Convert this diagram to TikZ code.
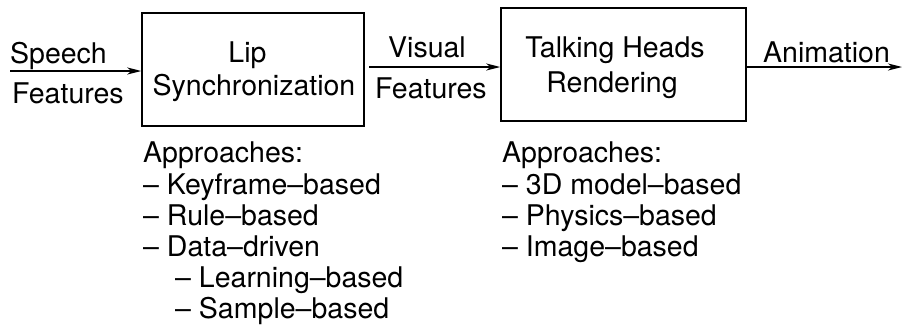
\documentclass[tikz,border=0pt]{standalone}
\usepackage{fontspec}
\setmainfont{TeX Gyre Heros}
\usetikzlibrary{arrows.meta}
\begin{document}
\begin{tikzpicture}[x=1pt,y=-1pt,
  lbl/.style={inner sep=0pt,anchor=base west,font=\fontsize{28.5}{31}\selectfont},
  ctr/.style={inner sep=0pt,anchor=base,font=\fontsize{28.5}{31}\selectfont},
  blockbox/.style={draw,line width=1.5pt,inner sep=0pt},
  arr/.style={line width=1.4pt,-{Stealth[length=14pt,width=7pt,inset=4pt]}}]
\useasboundingbox (0,0) rectangle (903,327);

% processing blocks
\node[blockbox,minimum width=222pt,minimum height=113pt] (sync) at (253,69.5) {};
\node[blockbox,minimum width=245pt,minimum height=113pt] (render) at (623.5,64.5) {};

% block titles
\node[ctr] (lip)  at (247.5,62) {Lip};
\node[ctr] (syn)  at (254,95) {Synchronization};
\node[ctr] (talk) at (615,57) {Talking Heads};
\node[ctr] (rend) at (612,92) {Rendering};

% signal labels
\node[lbl] (speech) at (10,63) {Speech};
\node[lbl] (feat1)  at (12,103) {Features};
\node[lbl] (vis)    at (388,57) {Visual};
\node[lbl] (feat2)  at (375,98) {Features};
\node[lbl] (anim)   at (763,62) {Animation};

% connectors
\coordinate (in1) at (10,71);
\coordinate (in2) at (369,67);
\coordinate (out) at (902,67);
\draw[arr] (in1) -- (in1 -| sync.west);
\draw[arr] (in2) -- (in2 -| render.west);
\draw[arr] (out -| render.east) -- (out);

% lists of approaches
\node[lbl] (la1) at (143,162) {Approaches:};
\node[lbl] (la2) at (143,194) {– Keyframe–based};
\node[lbl] (la3) at (143,225) {– Rule–based};
\node[lbl] (la4) at (143,256) {– Data–driven};
\node[lbl] (la5) at (175,287) {– Learning–based};
\node[lbl] (la6) at (175,318) {– Sample–based};

\node[lbl] (ra1) at (502,162) {Approaches:};
\node[lbl] (ra2) at (502,194) {– 3D model–based};
\node[lbl] (ra3) at (502,225) {– Physics–based};
\node[lbl] (ra4) at (502,256) {– Image–based};
\end{tikzpicture}
\end{document}
